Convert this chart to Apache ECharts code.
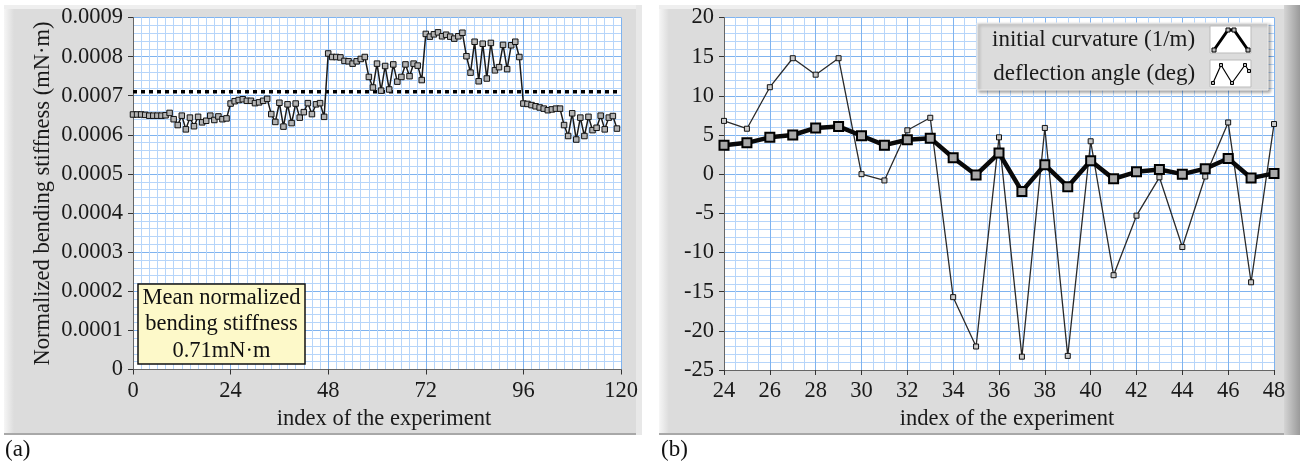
<!DOCTYPE html>
<html>
<head>
<meta charset="utf-8">
<script src="https://cdn.jsdelivr.net/npm/echarts@6/dist/echarts.min.js"></script>
<style>
  html, body { margin: 0; padding: 0; background: #fff; }
  #chart { width: 1305px; height: 470px; }
</style>
</head>
<body>
<div id="chart"></div>
<script>
// (a) normalized bending stiffness, one value per experiment (index 0..119)
const stiffness = [
  0.000652, 0.000652, 0.000652, 0.000651, 0.000649, 0.000649, 0.000649, 0.000649, 0.000650, 0.000656,
  0.000640, 0.000625, 0.000649, 0.000614, 0.000644, 0.000622, 0.000646, 0.000632, 0.000636, 0.000649,
  0.000638, 0.000647, 0.000640, 0.000642, 0.000680, 0.000686, 0.000689, 0.000691, 0.000687, 0.000687,
  0.000681, 0.000683, 0.000687, 0.000692, 0.000653, 0.000633, 0.000682, 0.000621, 0.000678, 0.000630,
  0.000680, 0.000644, 0.000658, 0.000681, 0.000653, 0.000678, 0.000681, 0.000646, 0.000808, 0.000799,
  0.000799, 0.000798, 0.000789, 0.000788, 0.000782, 0.000788, 0.000794, 0.000799, 0.000748, 0.000721,
  0.000782, 0.000713, 0.000776, 0.000716, 0.000780, 0.000736, 0.000748, 0.000780, 0.000750, 0.000782,
  0.000777, 0.000740, 0.000858, 0.000851, 0.000857, 0.000862, 0.000852, 0.000856, 0.000851, 0.000846,
  0.000852, 0.000861, 0.000801, 0.000759, 0.000838, 0.000737, 0.000833, 0.000744, 0.000835, 0.000765,
  0.000773, 0.000830, 0.000768, 0.000829, 0.000838, 0.000799, 0.000680, 0.000679, 0.000676, 0.000673,
  0.000670, 0.000667, 0.000663, 0.000665, 0.000667, 0.000667, 0.000625, 0.000597, 0.000655, 0.000588,
  0.000644, 0.000597, 0.000646, 0.000612, 0.000618, 0.000649, 0.000614, 0.000644, 0.000648, 0.000616
];
const meanStiffness = 0.00071;
const indexRange = [0, 120];

// (b) experiments 24..48
const expIndex = [24, 25, 26, 27, 28, 29, 30, 31, 32, 33, 34, 35, 36, 37, 38, 39, 40, 41, 42, 43, 44, 45, 46, 47, 48];
const curvature = [3.7, 4.0, 4.7, 5.0, 5.9, 6.1, 4.9, 3.7, 4.4, 4.6, 2.1, -0.1, 2.7, -2.2, 1.2, -1.6, 1.7, -0.6, 0.3, 0.6, 0.0, 0.7, 2.0, -0.5, 0.1];
const deflection = [6.8, 5.8, 11.1, 14.8, 12.7, 14.8, 0.0, -0.8, 5.6, 7.2, -15.7, -22.0, 4.7, -23.3, 5.9, -23.2, 4.2, -12.9, -5.3, -0.4, -9.3, -0.3, 6.6, -13.8, 6.4];

const serif = "'Liberation Serif', 'Times New Roman', serif";
const txt = '#1a1a1a';
const fs = 22.5;

function axisBase(grid, min, max, interval, pos) {
  return {
    type: 'value',
    gridIndex: grid,
    position: pos,
    offset: 0,
    min: min,
    max: max,
    interval: interval,
    axisLine: { show: true, onZero: false, lineStyle: { color: '#666', width: 1 } },
    axisTick: { show: true, length: 5, lineStyle: { color: '#333' } },
    axisLabel: { fontFamily: serif, fontSize: fs, color: txt, margin: 10 },
    splitLine: { show: true, lineStyle: { color: '#7fb3ef', width: 1 } }
  };
}

// hidden axes that only draw the fine light-blue grid
function minorAxis(grid, min, max, interval, pos) {
  return {
    type: 'value',
    gridIndex: grid,
    position: pos,
    offset: 0,
    min: min,
    max: max,
    interval: interval,
    axisLine: { show: false, onZero: false },
    axisTick: { show: false },
    axisLabel: { show: false },
    splitLine: { show: true, lineStyle: { color: '#b6d5fa', width: 1 } }
  };
}

function panel(x, w, darkEdge) {
  const parts = [
    { type: 'rect', z: -10, shape: { x: x, y: 5, width: w, height: 430 }, style: { fill: '#dcdcdc' } },
    { type: 'rect', z: -9, shape: { x: x, y: 5, width: 10, height: 430 },
      style: { fill: new echarts.graphic.LinearGradient(0, 0, 1, 0, [{ offset: 0, color: '#f6f6f6' }, { offset: 1, color: '#dcdcdc' }]) } },
    { type: 'rect', z: -9, shape: { x: x, y: 5, width: w, height: 4 }, style: { fill: '#efefef' } },
    { type: 'rect', z: -9, shape: { x: x, y: 433, width: w, height: 2 }, style: { fill: '#a8a8a8' } }
  ];
  if (darkEdge) {
    parts.push({ type: 'rect', z: -9, shape: { x: x + w - 16, y: 5, width: 16, height: 430 },
      style: { fill: new echarts.graphic.LinearGradient(0, 0, 1, 0, [{ offset: 0, color: '#d4d4d4' }, { offset: 1, color: '#9a9a9a' }]) } });
  } else {
    parts.push({ type: 'rect', z: -9, shape: { x: x + w - 6, y: 5, width: 6, height: 430 }, style: { fill: '#e8e8e8' } });
  }
  return parts;
}

const chart = echarts.init(document.getElementById('chart'), null, { renderer: 'canvas' });

const xA = axisBase(0, indexRange[0], indexRange[1], 24, 'bottom');
xA.name = 'index of the experiment';
xA.nameLocation = 'middle';
xA.nameGap = 36;
xA.nameTextStyle = { fontFamily: serif, fontSize: fs, color: txt, padding: [0, 0, 0, 14] };
const yA = axisBase(0, 0, 0.0009, 0.0001, 'left');
yA.axisLabel.formatter = v => (v === 0 ? '0' : v.toFixed(4));
yA.name = 'Normalized bending stiffness (mN\u00b7m)';
yA.nameLocation = 'middle';
yA.nameGap = 78;
yA.nameTextStyle = { fontFamily: serif, fontSize: fs, color: txt };

const xB = axisBase(1, 24, 48, 2, 'bottom');
xB.name = 'index of the experiment';
xB.nameLocation = 'middle';
xB.nameGap = 36;
xB.nameTextStyle = { fontFamily: serif, fontSize: fs, color: txt, padding: [0, 0, 0, 16] };
const yB = axisBase(1, -25, 20, 5, 'left');

// small pictures drawn inside the white legend swatches
function swatch(x, y, pts, width, sq) {
  const abs = pts.map(p => [x + p[0], y + p[1]]);
  const out = [{ type: 'polyline', z: 5, shape: { points: abs }, style: { stroke: '#000', lineWidth: width, fill: null } }];
  abs.forEach(p => out.push({ type: 'rect', z: 6, shape: { x: p[0] - sq / 2, y: p[1] - sq / 2, width: sq, height: sq },
    style: { fill: '#bbb', stroke: '#000', lineWidth: 1 } }));
  return out;
}

chart.setOption({
  animation: false,
  backgroundColor: '#fff',
  grid: [
    { left: 133, top: 17.5, width: 488, height: 352, backgroundColor: '#fff', show: true, borderWidth: 0 },
    { left: 724, top: 17.5, width: 550, height: 352.5, backgroundColor: '#fff', show: true, borderWidth: 0 }
  ],
  // indices 0,1 = fine grid; 2,3 = visible axes
  xAxis: [
    minorAxis(0, 0, 120, 2, 'bottom'),
    minorAxis(1, 24, 48, 0.5, 'bottom'),
    xA, xB
  ],
  yAxis: [
    minorAxis(0, 0, 0.0009, 0.00002, 'left'),
    minorAxis(1, -25, 20, 1, 'left'),
    yA, yB
  ],
  legend: {
    orient: 'vertical',
    left: 977,
    top: 23,
    padding: [3, 17, 3, 15],
    itemWidth: 41,
    itemHeight: 27,
    itemGap: 7,
    align: 'right',
    selectedMode: false,
    icon: 'rect',
    itemStyle: { color: 'rgba(0,0,0,0)', borderWidth: 0 },
    textStyle: { fontFamily: serif, fontSize: 23, color: txt },
    data: ['initial curvature (1/m)', 'deflection angle (deg)']
  },
  graphic: [
    ...panel(4, 638, false),
    ...panel(659, 641, true),
    { type: 'text', left: 5, top: 438, z: 5, style: { text: '(a)', font: '23px ' + serif, fill: '#111' } },
    { type: 'text', left: 661, top: 438, z: 5, style: { text: '(b)', font: '23px ' + serif, fill: '#111' } },
    // legend panel of (b)
    { type: 'rect', z: 3, shape: { x: 977, y: 23, width: 291, height: 67 },
      style: { fill: '#dcdcdc', stroke: '#f2f2f2', lineWidth: 1, shadowBlur: 3, shadowOffsetX: 2, shadowOffsetY: 2, shadowColor: 'rgba(0,0,0,0.35)' } },
    { type: 'rect', z: 3, shape: { x: 1210, y: 26, width: 41, height: 27 }, style: { fill: '#fff', stroke: '#bbb' } },
    { type: 'rect', z: 3, shape: { x: 1210, y: 60, width: 41, height: 27 }, style: { fill: '#fff', stroke: '#bbb' } },
    ...swatch(1210, 26, [[4, 24], [18, 4], [24, 4], [38, 24]], 3, 4),
    ...swatch(1210, 60, [[3, 23], [11, 5], [22, 23], [35, 5], [39, 11]], 1.2, 3),
    // mean annotation in (a)
    { type: 'rect', z: 20, shape: { x: 138, y: 284, width: 167, height: 80 },
      style: { fill: '#fdf9c9', stroke: '#111', lineWidth: 1.5 } },
    { type: 'text', z: 21, x: 221.5, y: 298,
      style: { text: 'Mean normalized', font: '22.5px ' + serif, fill: '#111', align: 'center', verticalAlign: 'middle' } },
    { type: 'text', z: 21, x: 221.5, y: 324,
      style: { text: 'bending stiffness', font: '22.5px ' + serif, fill: '#111', align: 'center', verticalAlign: 'middle' } },
    { type: 'text', z: 21, x: 221.5, y: 351,
      style: { text: '0.71mN\u00b7m', font: '22.5px ' + serif, fill: '#111', align: 'center', verticalAlign: 'middle' } }
  ],
  series: [
    {
      name: 'mean',
      type: 'line',
      xAxisIndex: 2,
      yAxisIndex: 2,
      data: indexRange.map(x => [x, meanStiffness]),
      symbol: 'none',
      silent: true,
      lineStyle: { color: '#000', type: [4, 4], width: 3.5 }
    },
    {
      name: 'stiffness',
      type: 'line',
      xAxisIndex: 2,
      yAxisIndex: 2,
      data: stiffness.map((v, i) => [i, v]),
      symbol: 'rect',
      symbolSize: 5.5,
      lineStyle: { color: '#1a1a1a', width: 1.5 },
      itemStyle: { color: '#b3b3b3', borderColor: '#111', borderWidth: 1 }
    },
    {
      name: 'deflection angle (deg)',
      type: 'line',
      xAxisIndex: 3,
      yAxisIndex: 3,
      data: expIndex.map((x, i) => [x, deflection[i]]),
      symbol: 'rect',
      symbolSize: 5,
      lineStyle: { color: '#2a2a2a', width: 1.3 },
      itemStyle: { color: '#c9c9c9', borderColor: '#111', borderWidth: 1 }
    },
    {
      name: 'initial curvature (1/m)',
      type: 'line',
      xAxisIndex: 3,
      yAxisIndex: 3,
      data: expIndex.map((x, i) => [x, curvature[i]]),
      symbol: 'rect',
      symbolSize: 9,
      lineStyle: { color: '#0a0a0a', width: 4.5 },
      itemStyle: { color: '#a8a8a8', borderColor: '#000', borderWidth: 2 }
    }
  ]
});
</script>
</body>
</html>
